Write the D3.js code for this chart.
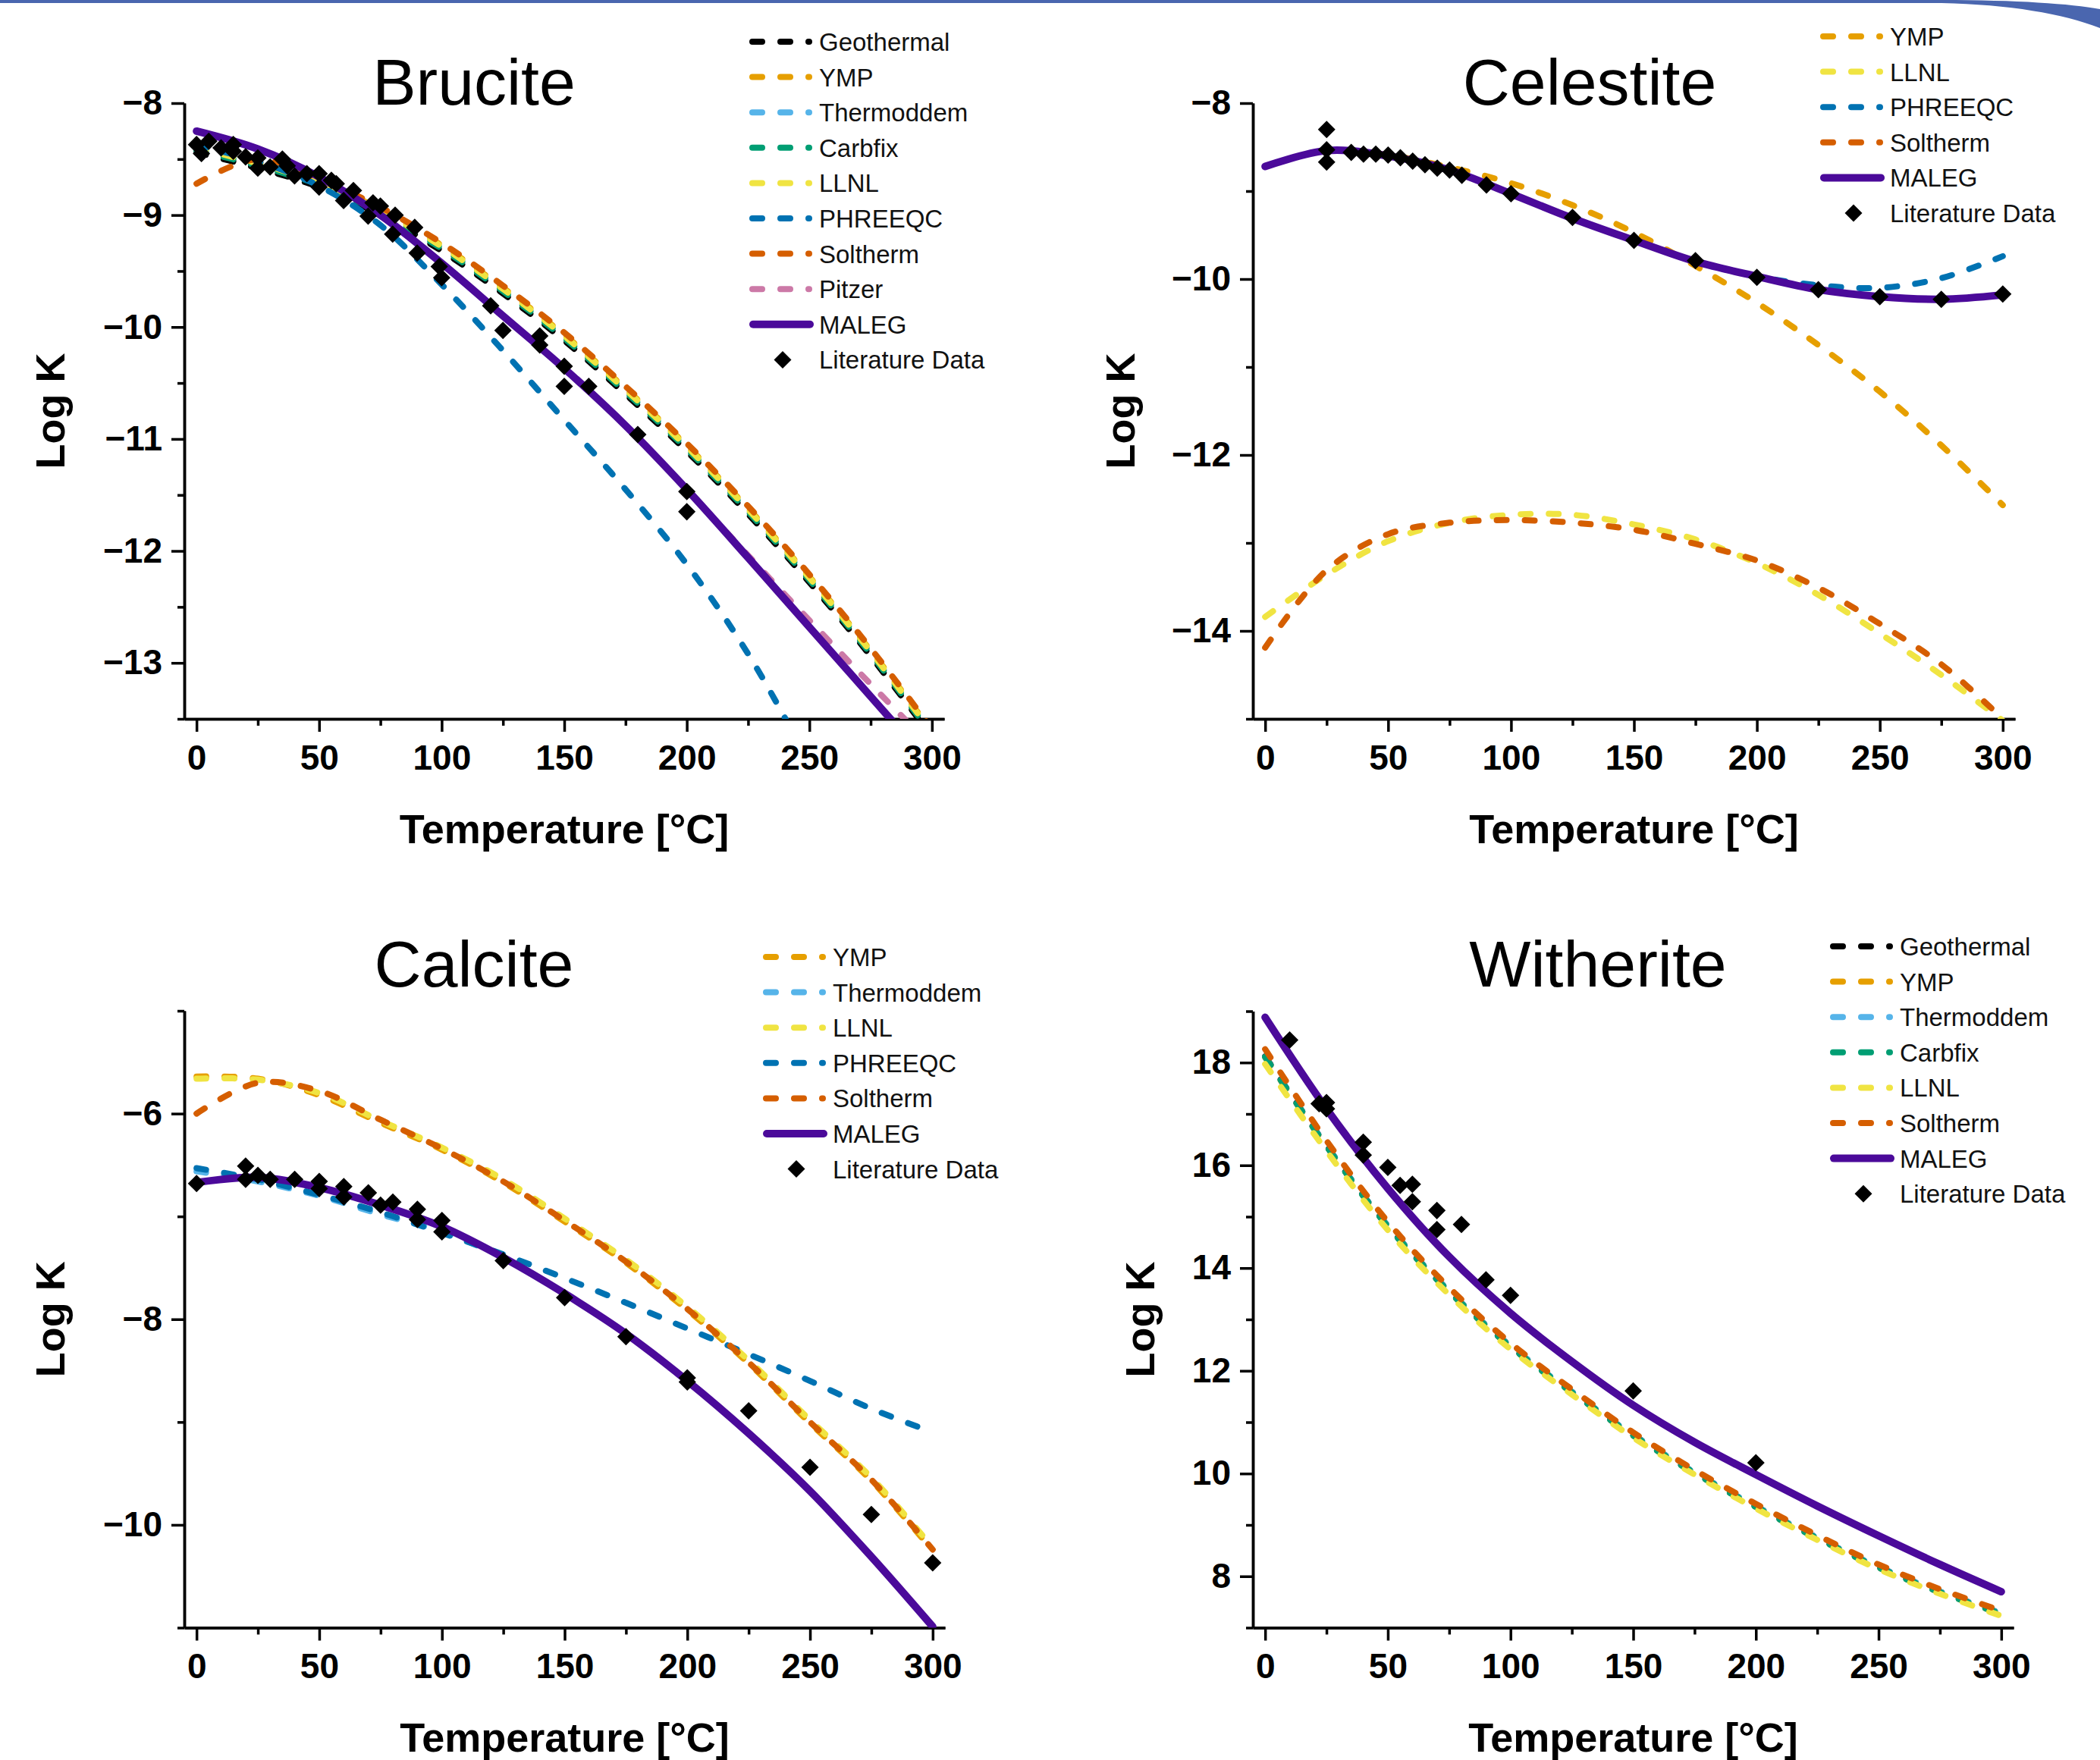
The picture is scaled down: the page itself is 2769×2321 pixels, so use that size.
<!DOCTYPE html>
<html>
<head>
<meta charset="utf-8">
<script src="https://cdn.jsdelivr.net/npm/d3@7"></script>
<style>
  body { margin: 0; background: #fff; }
  svg { display: block; font-family: "Liberation Sans", Arial, sans-serif; }
</style>
</head>
<body>
<svg id="chart" width="2769" height="2321"></svg>
<script>
// Temperature grid shared by all model curves (°C)
const T = [0, 25, 50, 75, 100, 125, 150, 175, 200, 225, 250, 275, 300];

// x ticks
const xMajor = [0, 50, 100, 150, 200, 250, 300];
const xMinor = [25, 75, 125, 175, 225, 275];

// ---- Brucite ----
const brGeothermal = [-8.44, -8.58, -8.75, -9.00, -9.32, -9.70, -10.12, -10.60, -11.11, -11.67, -12.28, -12.94, -13.66];
const brYMP        = [-8.39, -8.53, -8.70, -8.95, -9.27, -9.65, -10.07, -10.55, -11.06, -11.62, -12.23, -12.89, -13.61];
const brThermoddem = [-8.41, -8.55, -8.72, -8.97, -9.29, -9.67, -10.09, -10.57, -11.08, -11.64, -12.25, -12.91, -13.63];
const brCarbfix    = [-8.42, -8.56, -8.73, -8.98, -9.30, -9.68, -10.10, -10.58, -11.09, -11.65, -12.26, -12.92, -13.64];
const brLLNL       = [-8.40, -8.54, -8.71, -8.96, -9.28, -9.66, -10.08, -10.56, -11.07, -11.63, -12.24, -12.90, -13.62];
const brPHREEQC    = [-8.38, -8.52, -8.74, -9.09, -9.62, -10.21, -10.83, -11.45, -12.12, -12.92, -13.90, -15.00, -16.20];
const brSoltherm   = [-8.72, -8.50, -8.68, -8.93, -9.25, -9.63, -10.05, -10.53, -11.04, -11.60, -12.21, -12.87, -13.59];
const brPitzer     = [-8.25, -8.41, -8.66, -9.00, -9.43, -9.90, -10.37, -10.88, -11.45, -12.04, -12.62, -13.19, -13.75];
const brMALEG      = [-8.25, -8.41, -8.66, -9.00, -9.43, -9.90, -10.37, -10.88, -11.45, -12.06, -12.68, -13.30, -13.92];
const brDataT = [0, 2, 5, 10, 15, 15, 20, 25, 25, 30, 35, 37, 40, 45, 50, 50, 55, 57, 60, 64, 70, 72, 75, 80, 81, 89, 90, 99, 100, 120, 125, 140, 140, 150, 150, 160, 180, 200, 200];
const brDataK = [-8.37, -8.45, -8.34, -8.40, -8.37, -8.43, -8.48, -8.49, -8.58, -8.57, -8.50, -8.56, -8.65, -8.63, -8.63, -8.75, -8.69, -8.72, -8.87, -8.78, -9.01, -8.89, -8.92, -9.17, -9.00, -9.11, -9.34, -9.46, -9.56, -9.81, -10.03, -10.08, -10.16, -10.35, -10.53, -10.53, -10.96, -11.47, -11.65];
const brYTicks = [-13, -12, -11, -10, -9, -8];

// ---- Celestite ----
const ceYMP      = [-8.72, -8.54, -8.59, -8.73, -8.91, -9.16, -9.47, -9.85, -10.27, -10.75, -11.28, -11.89, -12.57];
const ceLLNL     = [-13.84, -13.36, -12.98, -12.77, -12.68, -12.68, -12.79, -12.96, -13.23, -13.59, -14.03, -14.50, -15.02];
const cePHREEQC  = [-8.72, -8.54, -8.60, -8.76, -9.03, -9.31, -9.56, -9.80, -9.97, -10.07, -10.10, -9.99, -9.74];
const ceSoltherm = [-14.19, -13.31, -12.90, -12.77, -12.74, -12.77, -12.85, -13.01, -13.20, -13.51, -13.92, -14.38, -15.00];
const ceMALEG    = [-8.72, -8.54, -8.60, -8.76, -9.03, -9.31, -9.56, -9.80, -9.97, -10.12, -10.20, -10.23, -10.18];
const ceDataT = [25, 25, 25, 35, 40, 45, 50, 55, 60, 65, 70, 75, 80, 90, 100, 125, 150, 175, 200, 225, 250, 275, 300];
const ceDataK = [-8.30, -8.53, -8.67, -8.56, -8.58, -8.58, -8.59, -8.62, -8.66, -8.70, -8.74, -8.76, -8.82, -8.93, -9.03, -9.30, -9.56, -9.79, -9.98, -10.12, -10.20, -10.23, -10.17];
const ceYTicks = [-14, -12, -10, -8];

// ---- Calcite ----
const caYMP        = [-5.64, -5.66, -5.82, -6.09, -6.35, -6.67, -7.05, -7.45, -7.91, -8.43, -9.01, -9.57, -10.25];
const caThermoddem = [-6.56, -6.66, -6.80, -6.98, -7.15, -7.40, -7.75, -8.14, -8.60, -9.11, -9.67, -10.31, -10.99];
const caLLNL       = [-5.66, -5.67, -5.80, -6.07, -6.33, -6.64, -7.02, -7.42, -7.88, -8.40, -8.98, -9.54, -10.22];
const caPHREEQC    = [-6.53, -6.64, -6.79, -6.96, -7.16, -7.37, -7.60, -7.84, -8.09, -8.34, -8.60, -8.87, -9.10];
const caSoltherm   = [-6.00, -5.70, -5.78, -6.06, -6.34, -6.66, -7.04, -7.44, -7.90, -8.42, -9.00, -9.56, -10.24];
const caMALEG      = [-6.67, -6.62, -6.72, -6.89, -7.10, -7.40, -7.75, -8.14, -8.60, -9.11, -9.67, -10.31, -10.99];
const caDataT = [0, 20, 20, 25, 30, 40, 50, 50, 60, 60, 70, 75, 80, 90, 90, 100, 100, 125, 150, 175, 200, 200, 225, 250, 275, 300];
const caDataK = [-6.68, -6.51, -6.64, -6.60, -6.64, -6.64, -6.66, -6.73, -6.71, -6.81, -6.77, -6.89, -6.86, -6.93, -7.03, -7.04, -7.15, -7.43, -7.79, -8.17, -8.57, -8.61, -8.89, -9.44, -9.90, -10.37];
const caYTicks = [-10, -8, -6];

// ---- Witherite ----
const wiGeothermal = [18.12, 16.38, 14.82, 13.55, 12.48, 11.59, 10.75, 10.02, 9.36, 8.75, 8.18, 7.70, 7.28];
const wiYMP        = [18.10, 16.37, 14.81, 13.54, 12.47, 11.58, 10.74, 10.01, 9.35, 8.74, 8.17, 7.69, 7.27];
const wiThermoddem = [18.11, 16.38, 14.82, 13.55, 12.48, 11.59, 10.75, 10.02, 9.36, 8.75, 8.18, 7.70, 7.28];
const wiCarbfix    = [18.11, 16.37, 14.81, 13.54, 12.47, 11.58, 10.74, 10.01, 9.35, 8.74, 8.17, 7.69, 7.27];
const wiLLNL       = [17.97, 16.28, 14.74, 13.48, 12.42, 11.54, 10.70, 9.98, 9.32, 8.71, 8.14, 7.66, 7.23];
const wiSoltherm   = [18.26, 16.48, 14.90, 13.62, 12.54, 11.64, 10.80, 10.07, 9.41, 8.80, 8.23, 7.75, 7.33];
const wiMALEG      = [18.88, 17.10, 15.55, 14.22, 13.12, 12.18, 11.33, 10.61, 9.98, 9.37, 8.79, 8.23, 7.70];
const wiDataT = [10, 22, 25, 25, 40, 40, 50, 55, 60, 60, 70, 70, 80, 90, 100, 150, 200];
const wiDataK = [18.44, 17.20, 17.22, 17.10, 16.45, 16.20, 15.96, 15.61, 15.63, 15.29, 15.12, 14.75, 14.85, 13.77, 13.47, 11.61, 10.21];
const wiYTicks = [8, 10, 12, 14, 16, 18];

const palette = {
    Geothermal: "#000000",
    YMP: "#E69F00",
    Thermoddem: "#56B4E9",
    Carbfix: "#009E73",
    LLNL: "#F0E442",
    PHREEQC: "#0072B2",
    Soltherm: "#D55E00",
    Pitzer: "#CC79A7",
    MALEG: "#4B0A9A"
};

const panels = [
    {
        id: "brucite", title: "Brucite", titleX: 625, titleY: 138,
        box: { l: 243, t: 136, r: 1245, b: 948 },
        yDomain: [-13.5, -8], yTicks: brYTicks, yMinor: d3.range(-13.5, -8, 1),
        logKX: 85, xLabelY: 1112, legend: { x: 988, y: 55 },
        lines: [["Geothermal", brGeothermal], ["YMP", brYMP], ["Thermoddem", brThermoddem], ["Carbfix", brCarbfix],
                ["LLNL", brLLNL], ["PHREEQC", brPHREEQC], ["Soltherm", brSoltherm], ["Pitzer", brPitzer], ["MALEG", brMALEG]],
        dataT: brDataT, dataK: brDataK
    },
    {
        id: "celestite", title: "Celestite", titleX: 2096, titleY: 138,
        box: { l: 1652, t: 136, r: 2657, b: 948 },
        yDomain: [-15, -8], yTicks: ceYTicks, yMinor: [-15, -13, -11, -9],
        logKX: 1496, xLabelY: 1112, legend: { x: 2400, y: 48 },
        lines: [["YMP", ceYMP], ["LLNL", ceLLNL], ["PHREEQC", cePHREEQC], ["Soltherm", ceSoltherm], ["MALEG", ceMALEG]],
        dataT: ceDataT, dataK: ceDataK
    },
    {
        id: "calcite", title: "Calcite", titleX: 625, titleY: 1301,
        box: { l: 243, t: 1333, r: 1246, b: 2146.5 },
        yDomain: [-11, -5], yTicks: caYTicks, yMinor: [-11, -9, -7, -5],
        logKX: 85, xLabelY: 2310, legend: { x: 1006, y: 1262 },
        lines: [["YMP", caYMP], ["Thermoddem", caThermoddem], ["LLNL", caLLNL], ["PHREEQC", caPHREEQC],
                ["Soltherm", caSoltherm], ["MALEG", caMALEG]],
        dataT: caDataT, dataK: caDataK
    },
    {
        id: "witherite", title: "Witherite", titleX: 2107, titleY: 1301,
        box: { l: 1652, t: 1333.5, r: 2655, b: 2146.5 },
        yDomain: [7, 19], yTicks: wiYTicks, yMinor: [7, 9, 11, 13, 15, 17, 19],
        logKX: 1522, xLabelY: 2310, legend: { x: 2413, y: 1248 },
        lines: [["Geothermal", wiGeothermal], ["YMP", wiYMP], ["Thermoddem", wiThermoddem], ["Carbfix", wiCarbfix],
                ["LLNL", wiLLNL], ["Soltherm", wiSoltherm], ["MALEG", wiMALEG]],
        dataT: wiDataT, dataK: wiDataK
    }
];

const svg = d3.select("#chart");
const diamond = d3.symbol().type(d3.symbolSquare).size(265);

// blue frame at the top edge
svg.append("path")
    .attr("d", "M0,0 L2560,0 C2660,0 2730,5 2769,12 L2769,37 C2720,18 2650,6 2560,4 L0,4 Z")
    .attr("fill", "#4A66AF");

function drawPanel(p) {
    const g = svg.append("g").attr("class", p.id);
    const x = d3.scaleLinear().domain([-5, 305]).range([p.box.l, p.box.r]);
    const y = d3.scaleLinear().domain(p.yDomain).range([p.box.b, p.box.t]);

    g.append("clipPath").attr("id", "clip-" + p.id)
        .append("rect")
        .attr("x", p.box.l).attr("y", p.box.t)
        .attr("width", p.box.r - p.box.l).attr("height", p.box.b - p.box.t);

    // Axes: minor then major
    const xAxisMinor = d3.axisBottom(x).tickValues(xMinor).tickSize(9).tickSizeOuter(0).tickFormat("");
    const xAxis = d3.axisBottom(x).tickValues(xMajor).tickSize(17).tickSizeOuter(0).tickPadding(17).tickFormat(d3.format("d"));
    const yAxisMinor = d3.axisLeft(y).tickValues(p.yMinor).tickSize(9).tickSizeOuter(0).tickFormat("");
    const yAxis = d3.axisLeft(y).tickValues(p.yTicks).tickSize(17).tickSizeOuter(0).tickPadding(12).tickFormat(d3.format("d"));

    [[xAxisMinor, "x"], [xAxis, "x"], [yAxisMinor, "y"], [yAxis, "y"]].forEach(([ax, k]) => {
        const a = g.append("g")
            .attr("transform", k === "x" ? `translate(0,${p.box.b})` : `translate(${p.box.l},0)`)
            .call(ax);
        a.selectAll("path, line").attr("stroke", "#000").attr("stroke-width", 3.5);
        a.selectAll("text")
            .attr("fill", "#000")
            .style("font-size", "46px")
            .style("font-weight", "bold");
    });

    // model curves
    const line = d3.line()
        .x((d, i) => x(T[i]))
        .y(d => y(d))
        .curve(d3.curveCatmullRom.alpha(0.5));

    const plot = g.append("g").attr("clip-path", `url(#clip-${p.id})`);
    p.lines.forEach(([name, vals]) => {
        const solid = name === "MALEG";
        plot.append("path")
            .attr("d", line(vals))
            .attr("fill", "none")
            .attr("stroke", palette[name])
            .attr("stroke-width", solid ? 10 : 8)
            .attr("stroke-linecap", "round")
            .attr("stroke-dasharray", solid ? null : "13,24");
    });

    // literature data
    plot.selectAll("path.pt")
        .data(p.dataT.map((t, i) => [t, p.dataK[i]]))
        .join("path")
        .attr("class", "pt")
        .attr("d", diamond)
        .attr("transform", d => `translate(${x(d[0])},${y(d[1])}) rotate(45)`)
        .attr("fill", "#000");

    // title
    g.append("text")
        .attr("x", p.titleX)
        .attr("y", p.titleY)
        .attr("text-anchor", "middle")
        .style("font-size", "86px")
        .text(p.title);

    // axis labels
    g.append("text")
        .attr("x", (p.box.l + p.box.r) / 2)
        .attr("y", p.xLabelY)
        .attr("text-anchor", "middle")
        .style("font-size", "54px")
        .style("font-weight", "bold")
        .text("Temperature [°C]");

    g.append("text")
        .attr("transform", `translate(${p.logKX},${(p.box.t + p.box.b) / 2}) rotate(-90)`)
        .attr("text-anchor", "middle")
        .style("font-size", "54px")
        .style("font-weight", "bold")
        .text("Log K");

    // legend: dash, dash, dot sample like the original
    const names = p.lines.map(d => d[0]).concat(["Literature Data"]);
    const lg = g.append("g");
    names.forEach((name, i) => {
        const cy = p.legend.y + i * 46.6;
        const x0 = p.legend.x;
        if (name === "MALEG") {
            lg.append("line")
                .attr("x1", x0 + 5).attr("x2", x0 + 80)
                .attr("y1", cy).attr("y2", cy)
                .attr("stroke", palette[name]).attr("stroke-width", 10)
                .attr("stroke-linecap", "round");
        } else if (name === "Literature Data") {
            lg.append("path")
                .attr("d", diamond)
                .attr("transform", `translate(${x0 + 44},${cy}) rotate(45)`)
                .attr("fill", "#000");
        } else {
            lg.append("line")
                .attr("x1", x0 + 4).attr("x2", x0 + 79)
                .attr("y1", cy).attr("y2", cy)
                .attr("stroke", palette[name]).attr("stroke-width", 8)
                .attr("stroke-linecap", "round")
                .attr("stroke-dasharray", "13,24");
        }
        lg.append("text")
            .attr("x", x0 + 92)
            .attr("y", cy + 12)
            .style("font-size", "33px")
            .attr("fill", "#111")
            .text(name);
    });
}

panels.forEach(drawPanel);
</script>
</body>
</html>
